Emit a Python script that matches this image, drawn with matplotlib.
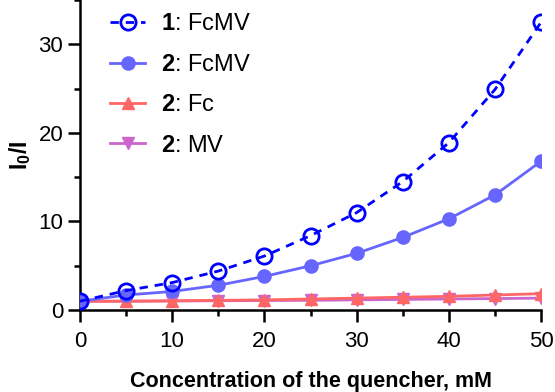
import numpy as np
import matplotlib.pyplot as plt
from matplotlib.ticker import MultipleLocator

plt.rcParams['font.family'] = ['Liberation Sans', 'DejaVu Sans']
plt.rcParams['mathtext.fontset'] = 'custom'
plt.rcParams['mathtext.rm'] = 'Liberation Sans'
plt.rcParams['mathtext.bf'] = 'Liberation Sans:bold'

conc = [0, 5, 10, 15, 20, 25, 30, 35, 40, 45, 50]
fcmv_1 = [1.0, 2.2, 3.1, 4.4, 6.1, 8.4, 11.0, 14.5, 18.9, 24.9, 32.5]
fcmv_2 = [1.0, 1.7, 2.1, 2.8, 3.8, 5.0, 6.4, 8.2, 10.3, 13.0, 16.8]
fc_2 = [1.0, 1.0, 1.05, 1.1, 1.15, 1.25, 1.35, 1.45, 1.55, 1.7, 1.85]
mv_2 = [1.0, 1.0, 1.02, 1.05, 1.08, 1.1, 1.15, 1.2, 1.25, 1.3, 1.35]

fig = plt.figure(figsize=(5.55, 3.92), dpi=100)
ax = fig.add_axes([0.144, 0.209, 0.831, 0.791])

ax.plot(conc, mv_2, color='#CC66CC', lw=2, marker='v', ms=9, label=r'$\mathbf{2}$: MV', zorder=2)
ax.plot(conc, fc_2, color='#FF6666', lw=2, marker='^', ms=9, label=r'$\mathbf{2}$: Fc', zorder=3)
ax.plot(conc, fcmv_2, color='#6666FF', lw=2, marker='o', ms=9.5, label=r'$\mathbf{2}$: FcMV', zorder=4)
ax.plot(conc, fcmv_1, color='#0000FF', lw=2, ls=(0, (3, 2.5)), marker='o', ms=11,
        mfc='none', mew=2, label=r'$\mathbf{1}$: FcMV', zorder=5)

ax.set_xlim(0, 50)
ax.set_ylim(0, 35)
ax.xaxis.set_major_locator(MultipleLocator(10))
ax.xaxis.set_minor_locator(MultipleLocator(5))
ax.yaxis.set_major_locator(MultipleLocator(10))
ax.yaxis.set_minor_locator(MultipleLocator(5))

for s in ['top', 'right']:
    ax.spines[s].set_visible(False)
for s in ['left', 'bottom']:
    ax.spines[s].set_linewidth(1.8)

ax.tick_params(which='major', length=8.5, width=1.8, labelsize=16)
ax.tick_params(which='minor', length=4.5, width=1.8)
ax.tick_params(axis='x', which='major', pad=6.5)
ax.tick_params(axis='y', which='major', pad=3.5)

ax.set_xlabel('Concentration of the quencher, mM', fontsize=15.5, fontweight='bold', labelpad=14)
ax.set_ylabel(r'$\mathbf{I_0/I}$', fontsize=16.5, labelpad=4)

handles, labels = ax.get_legend_handles_labels()
ax.legend(handles[::-1], labels[::-1], loc='upper left', bbox_to_anchor=(0.02, 1.025),
          frameon=False, fontsize=17, handlelength=1.45, handletextpad=0.7,
          labelspacing=0.78)

fig.savefig('out.png', dpi=100)
